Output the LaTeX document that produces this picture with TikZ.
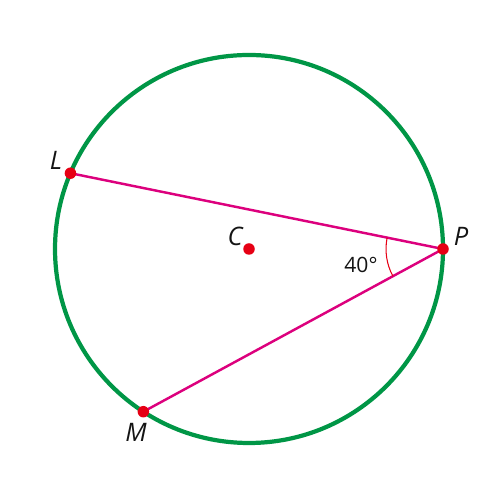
\documentclass[tikz,border=0pt]{standalone}
\usepackage{fontspec}
\setmainfont{Open Sans}
\usepackage{tikz}
\usetikzlibrary{calc, positioning}
\definecolor{circgreen}{RGB}{0,150,70}
\definecolor{chordpink}{RGB}{220,0,125}
\definecolor{dotred}{RGB}{230,0,20}
\definecolor{lblblack}{RGB}{20,20,20}
\tikzset{
  rim/.style={draw=circgreen, line width=2.4pt},
  chord/.style={draw=chordpink, line width=1.4pt},
  dot/.style={circle, fill=dotred, inner sep=0pt, minimum size=0.23cm},
  ptlabel/.style={font=\fontsize{14.5}{17}\selectfont\itshape, text=lblblack, inner sep=0pt},
  anglearc/.style={draw=dotred, line width=0.6pt},
  anglelabel/.style={font=\fontsize{12}{14}\selectfont, text=lblblack, inner sep=0pt}
}
\begin{document}
\begin{tikzpicture}
  \useasboundingbox (0,0) rectangle (10,10);
  % Circle
  \coordinate (c) at (4.98,5.02);
  \draw[rim] (c) circle (3.88);

  % Points on the circle
  \coordinate (l) at ($(c)+(157:3.88)$);
  \coordinate (m) at ($(c)+(237:3.88)$);
  \coordinate (p) at ($(c)+(0:3.88)$);

  % Chords
  \draw[chord] (l) -- (p);
  \draw[chord] (m) -- (p);

  % Angle at P
  \draw[anglearc] ($(p)+(168.5:1.14)$) arc (168.5:208.5:1.14);
  \node[anglelabel] (ang) at (7.22,4.7) {40°};

  % Dots
  \node[dot] (dl) at (l) {};
  \node[dot] (dm) at (m) {};
  \node[dot] (dp) at (p) {};
  \node[dot] (dc) at (c) {};

  % Labels
  \node[ptlabel] (ll) at (1.12,6.8) {L};
  \node[ptlabel] (lc) at (4.7,5.28) {C};
  \node[ptlabel] (lp) at (9.22,5.28) {P};
  \node[ptlabel] (lm) at (2.72,1.36) {M};
\end{tikzpicture}
\end{document}
